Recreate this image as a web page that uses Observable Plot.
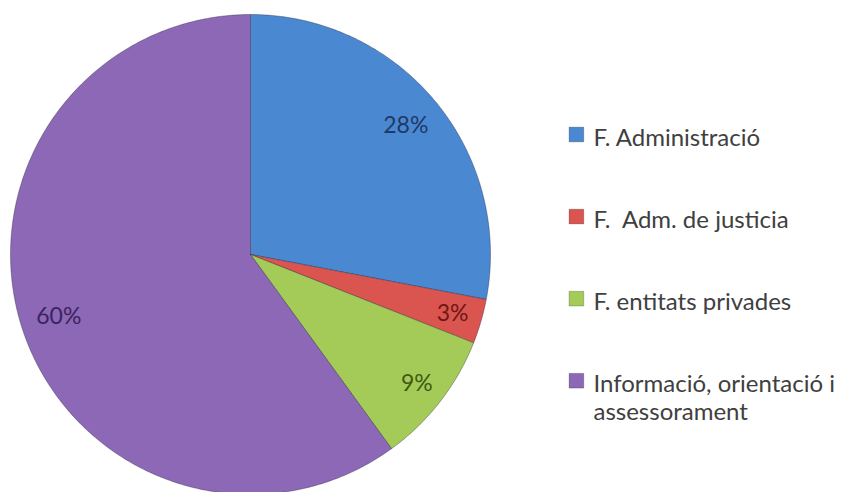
<!DOCTYPE html>
<html><head><meta charset="utf-8">
<script src="https://cdn.jsdelivr.net/npm/d3@7"></script>
<script src="https://cdn.jsdelivr.net/npm/@observablehq/plot@0.6"></script>
<style>body{margin:0;background:#fff} svg{display:block}</style>
</head><body><div id="chart"></div>
<script>
const categories = ["F. Administració", "F. Adm. de justicia", "F. entitats privades", "Informació, orientació i assessorament"];
const legendLabels = ["F. Administració", "F.\u00a0 Adm. de justicia", "F. entitats privades", "Informació, orientació i\nassessorament"];
const values = [28, 3, 9, 60];
const valueLabels = ["28%", "3%", "9%", "60%"];
const colors = ["#4b88d2", "#da5550", "#a4ca58", "#8c68b6"];
const labelColors = ["#1e3a66", "#6e1714", "#3f5a14", "#3a2460"];

const arcs = d3.pie().sort(null).value(d => d)(values);
const slices = [];
arcs.forEach((p, i) => {
  const n = Math.max(2, Math.ceil((p.endAngle - p.startAngle) / 0.01));
  slices.push({cat: categories[i], x: 0, y: 0});
  for (let k = 0; k <= n; k++) {
    const a = p.startAngle + (p.endAngle - p.startAngle) * k / n;
    slices.push({cat: categories[i], x: Math.sin(a), y: Math.cos(a)});
  }
  slices.push({cat: categories[i], x: 0, y: 0});
});
const labelPts = arcs.map((p, i) => {
  const a = (p.startAngle + p.endAngle) / 2;
  const r = values[i] < 15 ? 0.877 : 0.84;
  return {x: r * Math.sin(a), y: r * Math.cos(a), text: valueLabels[i]};
});

const chart = Plot.plot({
  width: 849, height: 492,
  marginLeft: 10, marginRight: 359, marginTop: 14, marginBottom: 0,
  x: {domain: [-1, 1], axis: null},
  y: {domain: [-0.9917, 1], axis: null},
  color: {domain: categories, range: colors},
  style: {fontFamily: "Lato, sans-serif", background: "#fff"},
  marks: [
    Plot.line(slices, {x: "x", y: "y", z: "cat", fill: "cat", stroke: "rgba(30,30,50,0.35)", strokeWidth: 1, strokeLinejoin: "round"}),
    ...labelPts.map((d, i) => Plot.text([d], {x: "x", y: "y", text: "text", fill: labelColors[i], fontSize: 23})),
    Plot.dot(categories, {x: () => 1.358, y: (d, i) => 0.5 - i * 0.342, symbol: "square", r: 8.3, fill: d => d, stroke: "rgba(0,0,0,0.25)", strokeWidth: 0.8}),
    Plot.text(legendLabels, {x: () => 1.429, y: (d, i) => 0.5 - i * 0.342, text: d => d, textAnchor: "start", lineAnchor: "top", dy: -9, fontSize: 24, lineHeight: 1.18, fill: "#404040"})
  ]
});
document.getElementById("chart").append(chart);
</script>
</body></html>
